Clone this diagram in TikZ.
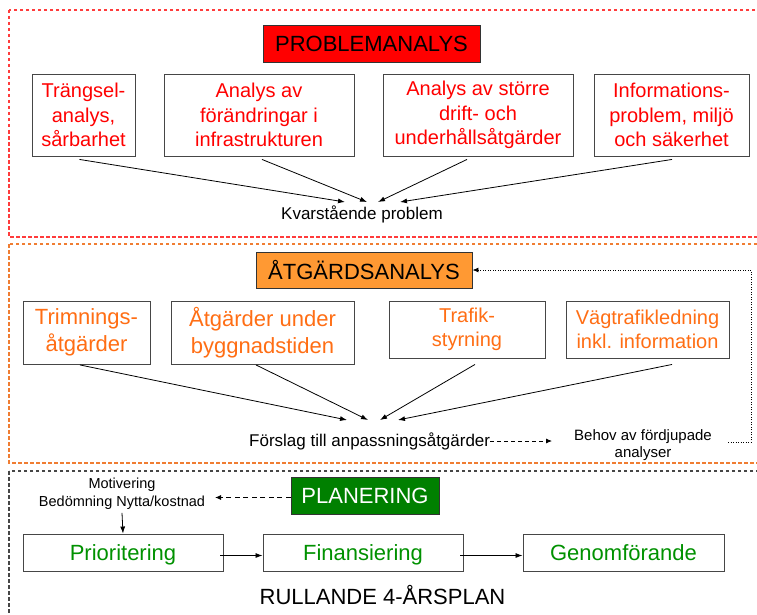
\documentclass[tikz,border=0pt]{standalone}
\usepackage{fontspec}
\setmainfont{Liberation Sans}
\usetikzlibrary{arrows.meta,calc}
\definecolor{pred}{RGB}{255,0,0}
\definecolor{porange}{RGB}{255,110,20}
\definecolor{orfill}{RGB}{255,153,51}
\definecolor{pgreen}{RGB}{0,145,0}
\definecolor{gfill}{RGB}{0,128,0}
\definecolor{boxgray}{RGB}{70,70,70}
\definecolor{framered}{RGB}{255,60,60}
\definecolor{frameorange}{RGB}{240,125,50}
\definecolor{frameblack}{RGB}{70,70,70}
\begin{document}
\begin{tikzpicture}[x=1pt,y=-1pt,
  frame/.style={line width=1.2pt, dash pattern=on 3.5pt off 2.5pt},
  box/.style={draw=boxgray, line width=0.9pt, align=center, inner sep=0pt},
  head/.style={draw=black!80, line width=0.9pt, align=center, inner sep=0pt,
    font=\fontsize{22}{26}\selectfont},
  big/.style={font=\fontsize{20}{24.5}\selectfont},
  bigger/.style={font=\fontsize{22}{27}\selectfont},
  conv/.style={-{Latex[length=7pt,width=5pt]}, line width=0.8pt},
  note/.style={align=center, inner sep=0pt}
]
\useasboundingbox (0,0) rectangle (757,615);
\clip (0,0) rectangle (757,615);
\fill[white] (0,0) rectangle (757,615);

% frames
\draw[frame, draw=framered] (9,10) rectangle (770,237);
\draw[frame, draw=frameorange] (9,244) rectangle (770,463);
\draw[frame, draw=frameblack] (9,471) rectangle (770,640);

% ---------- PROBLEMANALYS ----------
\node[head, fill=pred, text=black, minimum width=217, minimum height=37] (pa) at (371.5,43.5) {PROBLEMANALYS};

\node[box, big, text=pred, minimum width=103, minimum height=82] (p1) at (83.5,115) {Trängsel-\\analys,\\sårbarhet};
\node[box, big, text=pred, minimum width=190, minimum height=82] (p2) at (259,115) {Analys av\\förändringar i\\infrastrukturen};
\node[box, big, text=pred, minimum width=190, minimum height=82] (p3) at (478,115) {Analys av större\\drift- och\\underhållsåtgärder};
\node[box, big, text=pred, minimum width=155, minimum height=82] (p4) at (671.5,115) {Informations-\\problem, miljö\\och säkerhet};

\node[note, font=\fontsize{17}{19}\selectfont] (kv) at (362,214) {Kvarstående problem};
\coordinate (k1) at (345,202);
\coordinate (k2) at (367,202);
\coordinate (k3) at (378,202);
\coordinate (k4) at (400,202);
\draw[conv] ($(p1.south)+(-4,3)$) -- (k1);
\draw[conv] ($(p2.south)+(3,3)$) -- (k2);
\draw[conv] ($(p3.south)+(-11,3)$) -- (k3);
\draw[conv] ($(p4.south)+(0.5,3)$) -- (k4);

% ---------- ÅTGÄRDSANALYS ----------
\node[head, fill=orfill, text=black, minimum width=216, minimum height=36] (aa) at (364,270) {ÅTGÄRDSANALYS};

\node[box, bigger, text=porange, minimum width=127, minimum height=63] (a1) at (86.5,332.5) {Trimnings-\\åtgärder};
\node[box, bigger, text=porange, minimum width=183, minimum height=63] (a2) at (262.5,332.5) {Åtgärder under\\byggnadstiden};
\node[box, big, text=porange, minimum width=156, minimum height=57] (a3) at (467,329.5) {Trafik-\\styrning};
\node[box, big, text=porange, minimum width=163, minimum height=57] (a4) at (647.5,329.5) {Vägtrafikledning\\inkl. information};

\node[note, font=\fontsize{17}{19}\selectfont, anchor=west] (fs) at (249,441) {Förslag till anpassningsåtgärder};
\coordinate (f1) at (347,420);
\coordinate (f2) at (368,420);
\coordinate (f3) at (380,420);
\coordinate (f4) at (398,420);
\draw[conv] ($(a1.south)+(-6.5,0.5)$) -- (f1);
\draw[conv] ($(a2.south)+(-6.5,0.5)$) -- (f2);
\draw[conv] ($(a3.south)+(8,6)$) -- (f3);
\draw[conv] ($(a4.south)+(24.5,6)$) -- (f4);

\node[note, font=\fontsize{15}{16.5}\selectfont] (bh) at (643,445) {Behov av fördjupade\\analyser};
\coordinate (bt) at (552,441);
\draw[-{Latex[length=6pt,width=5pt]}, line width=0.8pt, dash pattern=on 4pt off 3pt] (fs.east) -- (bt);
\coordinate (ds) at (728,442);
\coordinate (dr) at (751,442);
\draw[-{Latex[length=6pt,width=5pt]}, line width=0.9pt, dash pattern=on 1pt off 1.5pt]
  (ds) -- (dr) |- (aa.east);

% ---------- PLANERING ----------
\node[head, fill=gfill, text=white, minimum width=148, minimum height=37] (pl) at (365,495.5) {PLANERING};

\node[note, font=\fontsize{14.5}{18}\selectfont] (mo) at (122,494) {Motivering\\Bedömning Nytta/kostnad};
\coordinate (mt) at (215,497.5);
\draw[-{Latex[length=6pt,width=5pt]}, line width=1pt, dash pattern=on 5pt off 3.5pt] (pl.west |- mt) -- (mt);

\node[box, bigger, text=pgreen, text height=16, text depth=0, minimum width=200, minimum height=37] (b1) at (123,552.5) {Prioritering};
\node[box, bigger, text=pgreen, text height=16, text depth=0, minimum width=200, minimum height=37] (b2) at (363,552.5) {Finansiering};
\node[box, bigger, text=pgreen, text height=16, text depth=0, minimum width=201, minimum height=37] (b3) at (623.5,552.5) {Genomförande};

\draw[-{Latex[length=7pt,width=5pt]}, line width=0.8pt] ($(mo.south)+(0,3)$) -- (b1.north);
\draw[conv] ($(b1.east)+(-3,3)$) -- ($(b2.west)+(0,3)$);
\draw[conv] ($(b2.east)+(-3,3)$) -- ($(b3.west)+(0,3)$);

\node[note, font=\fontsize{22}{26}\selectfont] (ru) at (382.5,595) {RULLANDE 4-ÅRSPLAN};
\end{tikzpicture}
\end{document}
